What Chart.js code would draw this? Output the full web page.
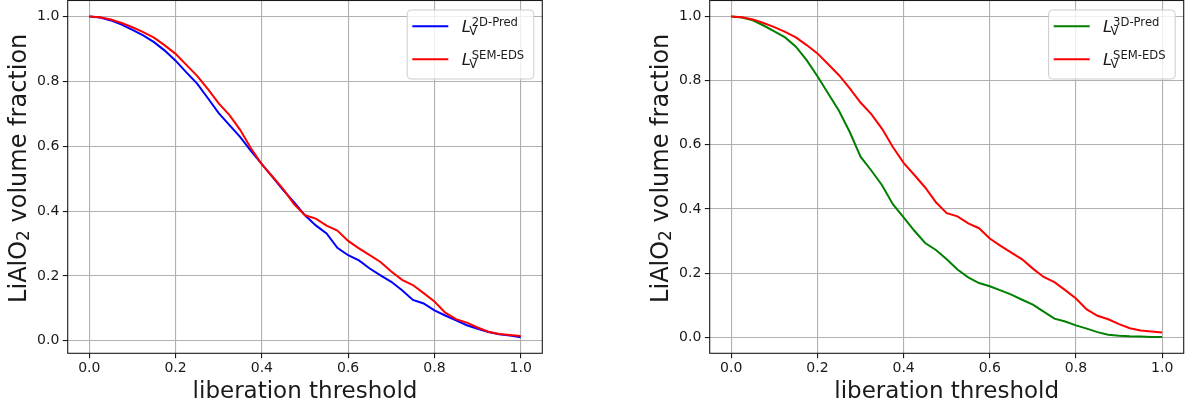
<!DOCTYPE html>
<html>
<head>
<meta charset="utf-8">
<script src="https://cdn.jsdelivr.net/npm/chart.js@4.4.1/dist/chart.umd.min.js"></script>
<style>
  html, body { margin: 0; padding: 0; background: #fff; }
  .panel { position: absolute; top: 0; width: 594px; height: 407px; }
  #left { left: 0; }
  #right { left: 594px; }
</style>
</head>
<body>
<div class="panel" id="left"><canvas id="chart2d"></canvas></div>
<div class="panel" id="right"><canvas id="chart3d"></canvas></div>
<script>
const thresholds = [
  0.000, 0.025, 0.050, 0.075, 0.100, 0.125, 0.150, 0.175, 0.200, 0.225,
  0.250, 0.275, 0.300, 0.325, 0.350, 0.375, 0.400, 0.425, 0.450, 0.475,
  0.500, 0.525, 0.550, 0.575, 0.600, 0.625, 0.650, 0.675, 0.700, 0.725,
  0.750, 0.775, 0.800, 0.825, 0.850, 0.875, 0.900, 0.925, 0.950, 0.975,
  1.000,
];
const pred2D = [
  1.000, 0.997, 0.988, 0.975, 0.959, 0.942, 0.921, 0.895, 0.864, 0.828,
  0.793, 0.748, 0.702, 0.665, 0.628, 0.585, 0.545, 0.505, 0.464, 0.427,
  0.387, 0.356, 0.331, 0.287, 0.264, 0.248, 0.223, 0.202, 0.182, 0.156,
  0.126, 0.115, 0.094, 0.078, 0.063, 0.048, 0.037, 0.027, 0.020, 0.016,
  0.011,
];
const pred3D = [
  1.000, 0.997, 0.988, 0.972, 0.954, 0.935, 0.906, 0.864, 0.814, 0.760,
  0.706, 0.640, 0.563, 0.520, 0.474, 0.415, 0.374, 0.332, 0.294, 0.272,
  0.243, 0.211, 0.187, 0.169, 0.159, 0.146, 0.133, 0.117, 0.102, 0.080,
  0.058, 0.049, 0.037, 0.027, 0.016, 0.008, 0.005, 0.003, 0.002, 0.001,
  0.001,
];
const semEds = [
  1.000, 0.998, 0.991, 0.980, 0.967, 0.952, 0.935, 0.911, 0.885, 0.851,
  0.817, 0.776, 0.732, 0.696, 0.650, 0.593, 0.544, 0.506, 0.467, 0.421,
  0.387, 0.377, 0.355, 0.340, 0.308, 0.285, 0.264, 0.243, 0.214, 0.188,
  0.172, 0.147, 0.121, 0.087, 0.067, 0.056, 0.041, 0.028, 0.021, 0.018,
  0.015,
];
const axisTicks = [0.0, 0.2, 0.4, 0.6, 0.8, 1.0];

const FONT = "'DejaVu Sans', sans-serif";
const INK = "#1a1a1a";

const toPoints = (ys) => thresholds.map((t, i) => ({ x: t, y: ys[i] }));

// axes box on all four sides, drawn over the curves like matplotlib spines
const frame = {
  id: "frame",
  afterDatasetsDraw(chart) {
    const { ctx, chartArea: a } = chart;
    ctx.save();
    ctx.strokeStyle = INK;
    ctx.lineWidth = 1.1;
    ctx.strokeRect(a.left, a.top, a.right - a.left, a.bottom - a.top);
    ctx.restore();
  },
};

// draws a run of text pieces, each with its own size and baseline shift
function drawRuns(ctx, runs, x, y, align) {
  const widths = runs.map((r) => {
    ctx.font = r.font;
    return r.advance !== undefined ? r.advance : ctx.measureText(r.text).width;
  });
  const total = widths.reduce((s, w) => s + w, 0);
  let cx = align === "center" ? x - total / 2 : x;
  runs.forEach((r, i) => {
    ctx.font = r.font;
    ctx.fillText(r.text, cx + (r.dx || 0), y + (r.dy || 0));
    cx += widths[i];
  });
}

const axisTitles = {
  id: "axisTitles",
  afterDraw(chart) {
    const { ctx, chartArea: a } = chart;
    ctx.save();
    ctx.fillStyle = INK;
    ctx.textBaseline = "alphabetic";
    ctx.textAlign = "left";
    drawRuns(ctx, [{ text: "liberation threshold", font: `23px ${FONT}` }],
      (a.left + a.right) / 2, a.bottom + 45, "center");

    ctx.translate(a.left - 42, a.bottom - 185);
    ctx.rotate(-Math.PI / 2);
    drawRuns(ctx, [
      { text: "LiAlO", font: `24px ${FONT}` },
      { text: "2", font: `17px ${FONT}`, dy: 3.5 },
      { text: " volume fraction", font: `24px ${FONT}` },
    ], 0, 0, "center");
    ctx.restore();
  },
};

// legend with L, subscript V and a superscript tag, as in the paper's notation
const mathLegend = {
  id: "mathLegend",
  afterDraw(chart, args, opts) {
    const { ctx, chartArea: a } = chart;
    const w = 126.6, h = 69;
    const left = a.right - 9 - w;
    const top = a.top + 9;
    ctx.save();
    ctx.beginPath();
    ctx.roundRect(left + 0.5, top + 0.5, w, h, 4);
    ctx.fillStyle = "rgba(255,255,255,0.8)";
    ctx.fill();
    ctx.strokeStyle = "#cccccc";
    ctx.lineWidth = 1;
    ctx.stroke();

    opts.entries.forEach((e, i) => {
      const ly = top + 16.7 + i * 33;
      ctx.beginPath();
      ctx.moveTo(left + 5.6, ly);
      ctx.lineTo(left + 41.6, ly);
      ctx.strokeStyle = e.color;
      ctx.lineWidth = 2;
      ctx.stroke();

      const tx = left + 55;
      const by = top + 22.4 + i * 33.3;
      ctx.fillStyle = INK;
      ctx.textBaseline = "alphabetic";
      ctx.textAlign = "left";
      ctx.font = `italic 16.5px ${FONT}`;
      ctx.fillText("L", tx, by);
      ctx.font = `11.6px ${FONT}`;
      ctx.fillText("V", tx + 7.5, by + 3.2);
      ctx.fillText(e.tag, tx + 10, by - 5.8);
    });
    ctx.restore();
  },
};

function axis(range, fit, pad) {
  return {
    type: "linear",
    min: range[0],
    max: range[1],
    afterBuildTicks: (s) => { s.ticks = axisTicks.map((v) => ({ value: v })); },
    afterFit: fit,
    border: { display: false },
    grid: {
      color: "#b0b0b0",
      lineWidth: 1.1,
      drawTicks: true,
      tickLength: 4.9,
      tickColor: INK,
      tickWidth: 1.1,
    },
    ticks: {
      color: INK,
      padding: pad,
      maxRotation: 0,
      autoSkip: false,
      font: { family: FONT, size: 14 },
      callback: (v) => Number(v).toFixed(1),
    },
  };
}

function makeChart(id, series, yRange, yWidth, padRight) {
  const ctx = document.getElementById(id).getContext("2d");
  return new Chart(ctx, {
    type: "line",
    data: {
      datasets: series.map((s) => ({
        label: s.tag,
        data: toPoints(s.values),
        borderColor: s.color,
        backgroundColor: s.color,
        borderWidth: 2,
        pointRadius: 0,
        tension: 0,
        fill: false,
        order: s.order,
      })),
    },
    options: {
      responsive: true,
      maintainAspectRatio: false,
      animation: false,
      layout: { padding: { left: 0, right: padRight, top: 0.5, bottom: 0 } },
      plugins: {
        legend: { display: false },
        tooltip: { enabled: false },
        mathLegend: { entries: series.map((s) => ({ color: s.color, tag: s.tag })) },
      },
      scales: {
        x: axis([-0.05, 1.05], (s) => {
          s.height = 53.7;
          s.paddingLeft = 0;
          s.paddingRight = 0;
        }, 1.5),
        y: axis(yRange, (s) => {
          s.width = yWidth;
          s.paddingTop = 0;
          s.paddingBottom = 0;
        }, 3.5),
      },
    },
    plugins: [frame, axisTitles, mathLegend],
  });
}

makeChart("chart2d", [
  { tag: "2D-Pred", values: pred2D, color: "#0000ff", order: 2 },
  { tag: "SEM-EDS", values: semEds, color: "#ff0000", order: 1 },
], [-0.0385, 1.0495], 67.7, 51.7);

makeChart("chart3d", [
  { tag: "3D-Pred", values: pred3D, color: "#008000", order: 2 },
  { tag: "SEM-EDS", values: semEds, color: "#ff0000", order: 1 },
], [-0.05, 1.05], 115.7, 4.3);
</script>
</body>
</html>
